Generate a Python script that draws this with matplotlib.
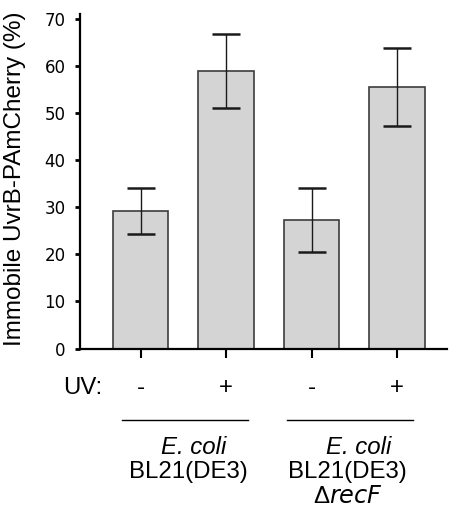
import numpy as np
import matplotlib
matplotlib.use("Agg")
import matplotlib.pyplot as plt
from matplotlib.transforms import blended_transform_factory
from matplotlib.lines import Line2D

# values
conditions = ["-", "+", "-", "+"]
immobile = [29.1, 58.8, 27.2, 55.4]
err_low = [24.4, 51.0, 20.4, 47.3]
err_high = [34.0, 66.8, 34.1, 63.7]
yticks = [0, 10, 20, 30, 40, 50, 60, 70]

fig = plt.figure(figsize=(4.51, 5.11), dpi=100)
ax = fig.add_axes([80 / 451, 1 - 348.5 / 511, 367 / 451, 334.5 / 511])

x = np.arange(len(immobile))
vals = np.array(immobile)
yerr = np.vstack([vals - np.array(err_low), np.array(err_high) - vals])

ax.bar(x, vals, width=0.65, color="#d4d4d4", edgecolor="#3c3c3c", linewidth=1.2, zorder=2)
ax.errorbar(x, vals, yerr=yerr, fmt="none", ecolor="#1a1a1a", elinewidth=1.0,
            capsize=10, capthick=1.8, zorder=3)

ax.set_xlim(-0.708, 3.585)
ax.set_ylim(0, 71)
ax.set_yticks(yticks)
ax.set_xticks(x)
ax.set_xticklabels([])
for s in ["top", "right"]:
    ax.spines[s].set_visible(False)
for s in ["left", "bottom"]:
    ax.spines[s].set_linewidth(1.6)
ax.tick_params(axis="y", length=3.5, width=2, pad=7, labelsize=12)
ax.tick_params(axis="x", length=6.5, width=1.5)
for lab in ax.get_yticklabels():
    lab.set_fontfamily("DejaVu Sans")

arial = "Liberation Sans"
fs = 17.3
fig.text(15 / 451, 1 - 179 / 511, "Immobile UvrB-PAmCherry (%)", rotation=90,
         ha="center", va="center", fontsize=17.5, family=arial)

tr = blended_transform_factory(ax.transData, fig.transFigure)
fig.text(83 / 451, 1 - 388 / 511, "UV:", ha="center", va="center", fontsize=fs, family=arial)
for xi, c in zip(x, conditions):
    ax.text(xi, 1 - 388 / 511, c, transform=tr, ha="center", va="center",
            fontsize=fs, family=arial)

for x0, x1 in [(-0.216, 1.257), (1.713, 3.187)]:
    ax.add_line(Line2D([x0, x1], [1 - 420 / 511] * 2, transform=tr, color="black",
                       linewidth=1.0, clip_on=False))

ax.text(0.626, 1 - 447 / 511, "E. coli", transform=tr, ha="center", va="center",
        fontsize=fs, family=arial, style="italic")
ax.text(0.556, 1 - 472 / 511, "BL21(DE3)", transform=tr, ha="center", va="center",
        fontsize=fs, family=arial)
ax.text(2.55, 1 - 447 / 511, "E. coli", transform=tr, ha="center", va="center",
        fontsize=fs, family=arial, style="italic")
ax.text(2.42, 1 - 472 / 511, "BL21(DE3)", transform=tr, ha="center", va="center",
        fontsize=fs, family=arial)
ax.text(2.43, 1 - 497 / 511, "Δ$\\it{recF}$", transform=tr, ha="center", va="center",
        fontsize=fs, family=arial)

fig.savefig("out.png", dpi=100)
